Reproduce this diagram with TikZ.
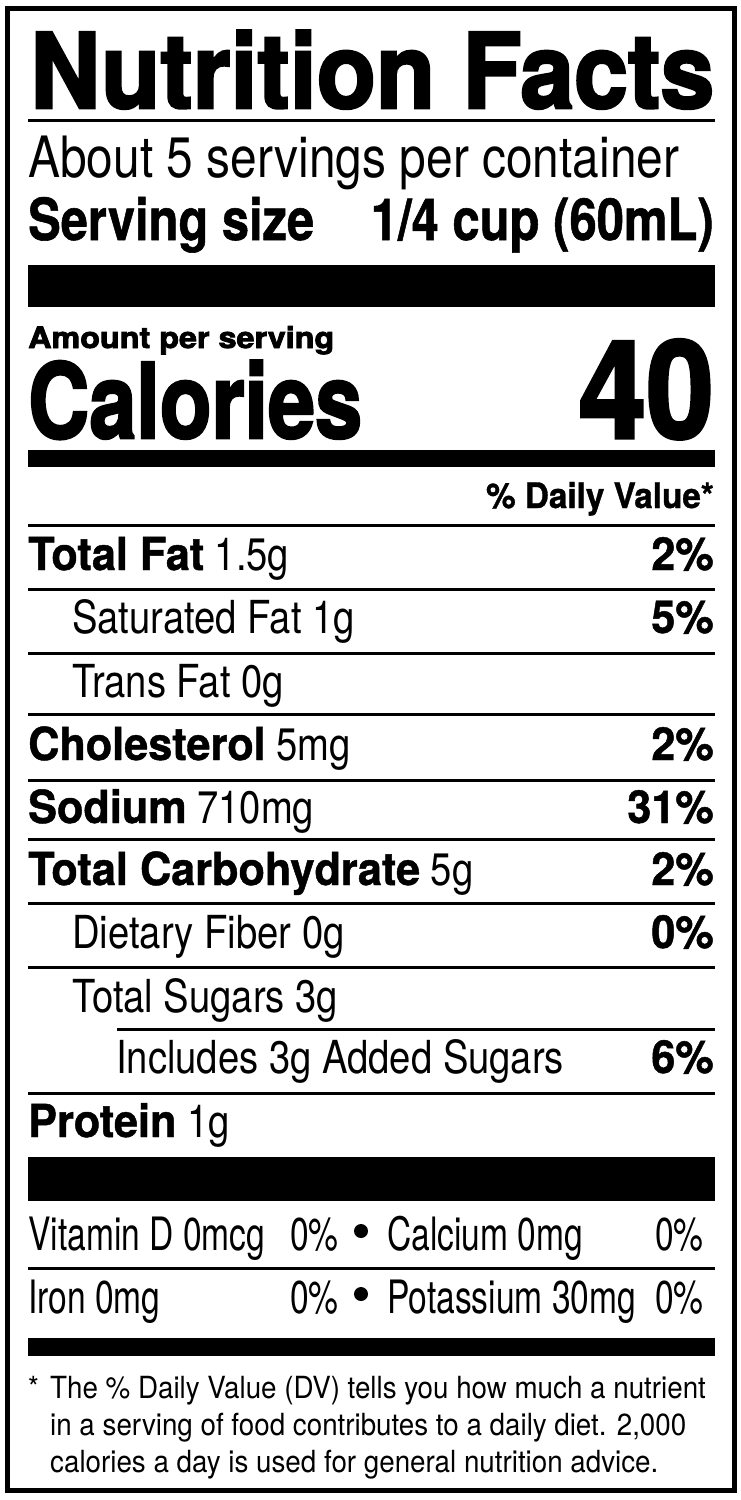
\documentclass[tikz,border=0pt]{standalone}
\usepackage{fontspec}
\usepackage{graphicx}
\setmainfont{TeX Gyre Heros}
\newfontfamily\titlefont{texgyreheros-bold.otf}[FakeBold=2.5]
\newfontfamily\rowbold{texgyreheros-bold.otf}[FakeStretch=0.95,FakeBold=1]
\newfontfamily\rowreg{texgyreheros-regular.otf}[FakeStretch=0.84]
\newfontfamily\minorreg{texgyreheros-regular.otf}[FakeStretch=0.73]
\newfontfamily\notereg{texgyreheros-regular.otf}[FakeStretch=0.91]
\usetikzlibrary{positioning}

\begin{document}
\begin{tikzpicture}[
x=1pt,y=-1pt,
txt/.style={
  inner sep=0pt,
  anchor=base west
  },
rtxt/.style={
  inner sep=0pt,
  anchor=base east
  },
item/.style={
  txt,
  font=\rowreg\fontsize{45.5}{45.5}\selectfont
  },
dv/.style={
  rtxt,
  font=\rowbold\fontsize{45.5}{45.5}\selectfont
  },
minor/.style={
  txt,
  font=\minorreg\fontsize{46}{46}\selectfont
  },
note/.style={
  txt,
  font=\notereg\fontsize{30.5}{30.5}\selectfont
  },
dot/.style={
  circle,
  fill,
  inner sep=0pt,
  minimum size=14pt
  },
rule/.style={line width=3pt},
bar/.style={fill=black}
]
\useasboundingbox (0,0) rectangle (741,1500);
\draw[line width=5pt] (7,8) rectangle (734,1490);

% heading
\node[txt,font=\titlefont\fontsize{104}{104}\selectfont] (title) at (30,108)
  {\resizebox{684pt}{\height}{Nutrition Facts}};
\draw[rule] (28,120.5) -- (715,120.5);
\node[txt,font=\rowreg\fontsize{57}{57}\selectfont] (servings) at (28,177)
  {About 5 servings per container};
\node[txt,font=\rowbold\fontsize{58}{58}\selectfont] (size) at (28,240)
  {\resizebox{286pt}{\height}{Serving size}};
\node[rtxt,font=\rowbold\fontsize{58}{58}\selectfont] (sizeval) at (714,240)
  {\resizebox{343pt}{\height}{1/4 cup (60mL)}};
\fill[bar] (28,265) rectangle (715,307);

% calories
\node[txt,font=\titlefont\fontsize{29.5}{29.5}\selectfont] (amount) at (28,348)
  {\resizebox{306pt}{\height}{Amount per serving}};
\node[txt,font=\titlefont\fontsize{104}{104}\selectfont] (cal) at (28,438)
  {\resizebox{334pt}{\height}{Calories}};
\node[rtxt,font=\titlefont\fontsize{136}{136}\selectfont] (calval) at (714,438)
  {\resizebox{135pt}{\height}{40}};
\fill[bar] (28,450) rectangle (715,467);
\node[rtxt,font=\rowbold\fontsize{35}{35}\selectfont] (dvhead) at (714,508)
  {\% Daily Value*};

% nutrients
\foreach \y/\x/\lbl/\pct [count=\i] in {
  570/28/{\rowbold Total Fat} 1.5g/2\%,
  633/72/Saturated Fat 1g/5\%,
  697/72/Trans Fat 0g/,
  760/28/{\rowbold Cholesterol} 5mg/2\%,
  823/28/{\rowbold Sodium} 710mg/31\%,
  885/28/{\rowbold Total Carbohydrate} 5g/2\%,
  948/72/Dietary Fiber 0g/0\%,
  1012/72/Total Sugars 3g/,
  1073/116/Includes 3g Added Sugars/6\%,
  1137/28/{\rowbold Protein} 1g/}
{
  \node[item] (item\i) at (\x,\y) {\lbl};
  \node[dv] (dv\i) at (714,\y) {\pct};
}
\foreach \y in {525.5,589,653,714.5,780,839.5,903,967,1093,1268}
  \draw[rule] (28,\y) -- (715,\y);
\draw[rule] (117,1029.5) -- (715,1029.5);
\fill[bar] (28,1157) rectangle (715,1201);

% vitamins and minerals
\node[minor] (vitd) at (28,1250) {Vitamin D 0mcg};
\node[minor] (vitdpct) at (290,1250) {0\%};
\node[dot] (dota) at (361,1231) {};
\node[minor] (calc) at (387,1250) {Calcium 0mg};
\node[minor] (calcpct) at (655,1250) {0\%};
\node[minor] (iron) at (28,1313) {Iron 0mg};
\node[minor] (ironpct) at (290,1313) {0\%};
\node[dot] (dotb) at (361,1294) {};
\node[minor] (pot) at (387,1313) {Potassium 30mg};
\node[minor] (potpct) at (655,1313) {0\%};
\fill[bar] (28,1338) rectangle (715,1356);

% footnote
\node[note] (star) at (28,1398) {*};
\node[note] (notea) at (50,1398) {The \% Daily Value (DV) tells you how much a nutrient};
\node[note] (noteb) at (50,1435) {in a serving of food contributes to a daily diet. 2,000};
\node[note] (notec) at (50,1472) {calories a day is used for general nutrition advice.};
\end{tikzpicture}
\end{document}
